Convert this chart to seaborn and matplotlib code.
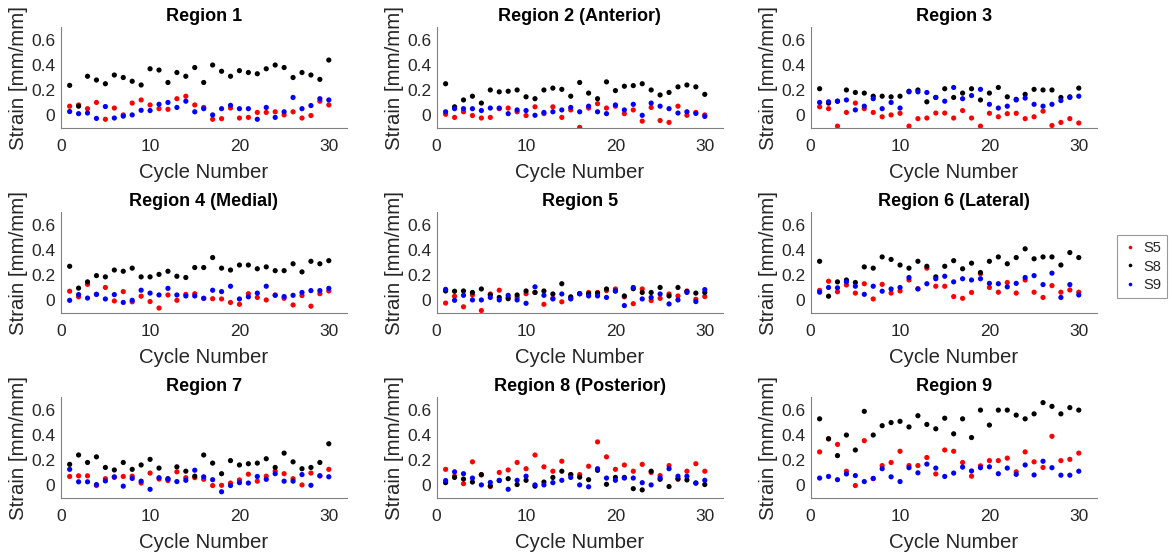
import numpy as np
import pandas as pd
import matplotlib
matplotlib.use("Agg")
import matplotlib.pyplot as plt
import seaborn as sns

cycles = list(range(1, 31))
titles = ["Region 1", "Region 2 (Anterior)", "Region 3",
          "Region 4 (Medial)", "Region 5", "Region 6 (Lateral)",
          "Region 7", "Region 8 (Posterior)", "Region 9"]
specimens = ["S5", "S8", "S9"]

# Region 1
r1_s5 = [0.07, 0.08, 0.05, 0.10, -0.035, 0.055, 0.0, 0.095, 0.12, 0.08, 0.05, 0.045, 0.13, 0.15, 0.08, 0.06, -0.035, -0.03, 0.055, -0.025, -0.02, 0.02, 0.02, 0.025, 0.0, 0.025, -0.025, -0.005, 0.11, 0.08]
r1_s8 = [0.237, 0.07, 0.31, 0.28, 0.25, 0.32, 0.30, 0.27, 0.24, 0.37, 0.36, 0.26, 0.34, 0.31, 0.38, 0.26, 0.40, 0.35, 0.31, 0.355, 0.34, 0.33, 0.37, 0.40, 0.38, 0.30, 0.34, 0.32, 0.285, 0.44]
r1_s9 = [0.027, 0.01, 0.015, -0.028, 0.067, -0.025, -0.01, 0.0, 0.037, 0.035, 0.085, 0.10, 0.06, 0.11, 0.025, 0.05, 0.0, 0.05, 0.077, 0.05, 0.05, -0.035, 0.06, -0.02, 0.025, 0.14, 0.05, 0.075, 0.13, 0.12]
# Region 2
r2_s5 = [0.005, -0.02, 0.025, -0.005, -0.025, -0.02, 0.05, 0.055, 0.025, -0.005, 0.065, 0.01, 0.065, -0.02, 0.04, -0.10, 0.055, 0.09, 0.055, 0.07, 0.01, 0.04, -0.05, 0.06, -0.045, -0.06, 0.07, -0.003, 0.02, 0.0]
r2_s8 = [0.25, 0.065, 0.12, 0.15, 0.095, 0.20, 0.185, 0.19, 0.20, 0.145, 0.13, 0.20, 0.215, 0.205, 0.15, 0.26, 0.175, 0.13, 0.265, 0.195, 0.23, 0.235, 0.25, 0.20, 0.16, 0.18, 0.225, 0.24, 0.225, 0.165]
r2_s9 = [0.025, 0.05, 0.05, 0.05, 0.035, 0.055, 0.055, 0.01, 0.04, 0.035, -0.003, 0.02, 0.025, 0.04, 0.06, 0.025, 0.07, 0.025, 0.01, 0.08, 0.04, 0.085, -0.003, 0.095, 0.07, 0.05, 0.015, 0.025, 0.012, -0.012]
# Region 3
r3_s5 = [0.065, 0.05, -0.09, 0.02, 0.095, 0.05, 0.02, -0.015, 0.0, 0.013, -0.09, -0.03, -0.025, 0.015, 0.015, -0.025, 0.035, -0.025, -0.09, 0.013, -0.015, 0.01, 0.013, -0.03, -0.015, 0.03, -0.085, -0.06, -0.03, -0.065]
r3_s8 = [0.21, 0.095, 0.11, 0.20, 0.18, 0.175, 0.15, 0.15, 0.145, 0.15, 0.19, 0.20, 0.105, 0.14, 0.21, 0.14, 0.175, 0.21, 0.12, 0.175, 0.22, 0.145, 0.125, 0.165, 0.205, 0.20, 0.20, 0.14, 0.145, 0.215]
r3_s9 = [0.10, 0.105, 0.11, 0.12, 0.04, 0.07, 0.13, 0.05, 0.10, 0.055, 0.185, 0.185, 0.18, 0.14, 0.11, 0.22, 0.13, 0.155, 0.205, 0.085, 0.055, 0.07, 0.12, 0.135, 0.085, 0.07, 0.085, 0.115, 0.14, 0.15]
# Region 4
r4_s5 = [0.07, 0.025, 0.125, 0.045, 0.10, -0.008, 0.067, -0.015, 0.03, -0.013, -0.065, 0.04, -0.003, 0.045, 0.05, 0.013, 0.01, 0.008, -0.02, -0.035, 0.05, 0.02, 0.0, 0.04, 0.013, -0.04, 0.035, -0.05, 0.05, 0.072]
r4_s8 = [0.27, 0.095, 0.145, 0.195, 0.185, 0.24, 0.23, 0.255, 0.185, 0.185, 0.205, 0.23, 0.19, 0.18, 0.26, 0.26, 0.34, 0.255, 0.24, 0.28, 0.28, 0.25, 0.265, 0.235, 0.235, 0.29, 0.225, 0.31, 0.29, 0.315]
r4_s9 = [-0.003, 0.043, 0.015, 0.045, 0.008, 0.043, -0.02, -0.003, 0.078, 0.055, 0.04, 0.093, 0.04, 0.032, 0.032, 0.013, 0.078, 0.067, 0.11, 0.008, 0.025, 0.055, 0.11, 0.037, 0.027, 0.037, 0.06, 0.075, 0.075, 0.093]
# Region 5
r5_s5 = [-0.025, 0.03, -0.055, 0.04, -0.085, 0.048, 0.078, 0.02, 0.02, 0.05, 0.06, -0.035, 0.013, -0.015, 0.013, 0.05, 0.06, 0.06, 0.075, 0.088, 0.025, -0.03, 0.088, -0.005, 0.013, 0.048, 0.032, 0.072, 0.005, 0.027]
r5_s8 = [0.072, 0.07, 0.072, 0.06, 0.088, 0.04, 0.02, 0.01, 0.04, 0.072, 0.06, 0.072, 0.048, 0.13, 0.025, 0.05, 0.05, 0.055, 0.088, 0.072, 0.032, 0.09, 0.06, 0.06, 0.10, 0.032, 0.10, 0.067, 0.055, 0.06]
r5_s9 = [0.085, -0.003, 0.037, 0.0, 0.0, 0.02, 0.0, 0.037, 0.0, -0.027, 0.105, 0.037, 0.008, 0.048, 0.008, 0.05, 0.032, 0.032, 0.02, 0.072, -0.045, 0.10, 0.008, 0.02, 0.048, -0.032, 0.0, 0.06, -0.013, 0.083]
# Region 6
r6_s5 = [0.077, 0.15, 0.065, 0.12, 0.055, 0.13, 0.008, 0.125, 0.055, 0.072, 0.16, 0.09, 0.255, 0.11, 0.11, 0.027, 0.013, 0.06, 0.21, 0.10, 0.062, 0.14, 0.055, 0.16, 0.062, 0.02, 0.115, 0.062, 0.08, 0.062]
r6_s8 = [0.31, 0.03, 0.145, 0.16, 0.14, 0.265, 0.255, 0.345, 0.325, 0.28, 0.255, 0.31, 0.27, 0.185, 0.27, 0.315, 0.25, 0.295, 0.22, 0.31, 0.345, 0.29, 0.34, 0.41, 0.33, 0.345, 0.345, 0.28, 0.38, 0.34]
r6_s9 = [0.062, 0.10, 0.097, 0.145, 0.11, 0.045, 0.11, 0.07, 0.088, 0.10, 0.18, 0.088, 0.13, 0.17, 0.19, 0.145, 0.17, 0.16, 0.17, 0.133, 0.13, 0.105, 0.133, 0.18, 0.195, 0.123, 0.215, 0.02, 0.123, 0.04]
# Region 7
r7_s5 = [0.068, 0.073, 0.073, -0.005, 0.05, 0.06, 0.068, 0.07, 0.015, 0.095, 0.047, 0.035, 0.105, 0.058, 0.058, 0.045, -0.005, -0.003, 0.015, 0.04, 0.086, 0.03, 0.07, 0.11, 0.09, 0.05, 0.0, 0.095, 0.073, 0.125]
r7_s8 = [0.165, 0.24, 0.18, 0.225, 0.14, 0.12, 0.18, 0.125, 0.16, 0.205, 0.135, 0.05, 0.145, 0.11, 0.07, 0.24, 0.175, 0.09, 0.195, 0.16, 0.17, 0.175, 0.21, 0.14, 0.255, 0.185, 0.13, 0.14, 0.18, 0.33]
r7_s9 = [0.125, 0.025, 0.025, 0.003, 0.032, 0.065, -0.01, 0.052, 0.03, -0.035, 0.058, 0.047, 0.027, 0.037, 0.118, 0.065, 0.042, -0.055, -0.005, 0.018, 0.015, 0.068, 0.045, 0.09, 0.03, 0.03, 0.083, -0.003, 0.073, 0.065]
# Region 8
r8_s5 = [0.125, 0.07, 0.01, 0.185, 0.08, -0.013, 0.10, 0.12, 0.18, 0.13, 0.24, 0.145, 0.11, 0.19, 0.083, 0.083, 0.15, 0.345, 0.225, 0.125, 0.16, 0.11, 0.165, 0.10, 0.075, 0.155, 0.045, 0.11, 0.17, 0.11]
r8_s8 = [0.018, 0.06, 0.047, 0.023, 0.083, -0.008, 0.035, 0.05, 0.003, 0.037, -0.01, 0.023, 0.06, 0.11, 0.083, 0.062, 0.042, 0.117, 0.005, 0.06, 0.06, -0.03, -0.04, 0.11, 0.045, -0.013, 0.05, 0.04, 0.015, 0.003]
r8_s9 = [0.035, 0.105, 0.09, 0.055, 0.0, 0.02, 0.037, -0.035, 0.037, 0.07, 0.0, 0.0, 0.018, 0.037, 0.06, 0.0, -0.015, 0.13, 0.055, 0.037, 0.055, 0.055, 0.018, 0.0, 0.055, 0.13, 0.07, 0.07, 0.015, 0.037]
# Region 9
r9_s5 = [0.265, 0.37, 0.325, 0.11, -0.005, 0.355, 0.05, 0.155, 0.18, 0.27, 0.155, 0.155, 0.22, 0.088, 0.28, 0.27, 0.18, 0.07, 0.153, 0.195, 0.195, 0.215, 0.105, 0.265, 0.185, 0.14, 0.39, 0.195, 0.205, 0.255]
r9_s8 = [0.53, 0.37, 0.235, 0.40, 0.28, 0.59, 0.40, 0.475, 0.50, 0.51, 0.465, 0.555, 0.485, 0.45, 0.535, 0.41, 0.53, 0.38, 0.60, 0.48, 0.60, 0.60, 0.56, 0.53, 0.57, 0.66, 0.63, 0.57, 0.62, 0.60]
r9_s9 = [0.055, 0.068, 0.042, 0.088, 0.075, 0.027, 0.052, 0.13, 0.065, 0.027, 0.138, 0.097, 0.167, 0.135, 0.068, 0.095, 0.143, 0.112, 0.138, 0.145, 0.09, 0.135, 0.085, 0.16, 0.08, 0.19, 0.138, 0.078, 0.078, 0.11]

regions = [
    (r1_s5, r1_s8, r1_s9), (r2_s5, r2_s8, r2_s9), (r3_s5, r3_s8, r3_s9),
    (r4_s5, r4_s8, r4_s9), (r5_s5, r5_s8, r5_s9), (r6_s5, r6_s8, r6_s9),
    (r7_s5, r7_s8, r7_s9), (r8_s5, r8_s8, r8_s9), (r9_s5, r9_s8, r9_s9),
]

sns.set_theme(style="white")
plt.rcParams['font.family'] = ['Liberation Sans', 'DejaVu Sans']

palette = {"S5": "#ff0000", "S8": "#000000", "S9": "#0000ff"}
axis_gray = "#262626"

fig = plt.figure(figsize=(11.72, 5.58), dpi=100)
lefts = [0.0518, 0.3726, 0.6917]
bottoms = [0.7706, 0.439, 0.1075]
w, h = 0.244, 0.181

handles = None
for i, (title, vals) in enumerate(zip(titles, regions)):
    r, c = divmod(i, 3)
    ax = fig.add_axes([lefts[c], bottoms[r], w, h])
    df = pd.DataFrame({
        "Cycle": cycles * 3,
        "Strain": list(vals[0]) + list(vals[1]) + list(vals[2]),
        "Specimen": ["S5"] * 30 + ["S8"] * 30 + ["S9"] * 30,
    })
    sns.scatterplot(data=df, x="Cycle", y="Strain", hue="Specimen",
                    palette=palette, hue_order=specimens, s=14,
                    linewidth=0, ax=ax, legend=(i == 5))
    if i == 5:
        handles, labels = ax.get_legend_handles_labels()
        ax.get_legend().remove()
    ax.set_xlim(0, 32)
    ax.set_ylim(-0.105, 0.705)
    ax.set_xticks([0, 10, 20, 30])
    ax.set_yticks([0, 0.2, 0.4, 0.6])
    ax.set_yticklabels(["0", "0.2", "0.4", "0.6"])
    ax.set_title(title, fontsize=13, fontweight="bold", color="black", pad=4)
    ax.set_xlabel("Cycle Number", fontsize=14.7, color=axis_gray)
    ax.set_ylabel("Strain [mm/mm]", fontsize=14.7, color=axis_gray)
    ax.xaxis.set_label_coords(0.5, -0.35)
    ax.yaxis.set_label_coords(-0.115, 0.5)
    for side in ["top", "right"]:
        ax.spines[side].set_visible(False)
    for side in ["left", "bottom"]:
        ax.spines[side].set_color("#808080")
        ax.spines[side].set_linewidth(0.8)
    ax.tick_params(axis="both", direction="in", length=3, width=0.6,
                   color="#808080", labelsize=12.5, labelcolor=axis_gray)
    ax.tick_params(axis="x", pad=8)
    ax.tick_params(axis="y", pad=4)

leg = fig.legend(handles, labels, loc="center left",
                 bbox_to_anchor=(0.953, 0.5224), borderaxespad=0,
                 frameon=True, fontsize=10.6,
                 handletextpad=0.4, borderpad=0.4, labelspacing=0.3,
                 handlelength=1.0, fancybox=False, markerscale=0.7)
leg.get_frame().set_edgecolor("#808080")
leg.get_frame().set_linewidth(0.8)

fig.savefig("out.png", dpi=100)
